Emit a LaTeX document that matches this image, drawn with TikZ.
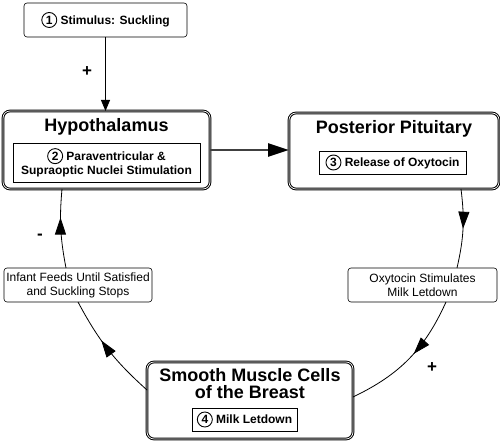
\documentclass[tikz,border=0pt]{standalone}
\usepackage{fontspec}
\setmainfont{Liberation Sans}
\usetikzlibrary{arrows.meta, decorations.markings}

\newcommand{\cnum}[1]{\tikz[baseline=(cnumnode.base)]\node[circle, draw, line width=0.9pt, inner sep=0pt, minimum size=15pt](cnumnode){#1};}

\tikzset{
  organ/.style={draw, rounded corners=7pt, double, double distance=0.7pt, line width=1pt, inner sep=0pt, outer sep=0pt},
  organtitle/.style={font=\fontsize{18}{17}\selectfont\bfseries, align=center},
  stepinner/.style={draw, line width=0.6pt, inner sep=0pt, outer sep=0pt, font=\fontsize{12}{14}\selectfont\bfseries, align=center},
  notebox/.style={draw, rounded corners=3pt, line width=0.6pt, inner sep=0pt, outer sep=0pt, minimum height=34pt, font=\fontsize{12}{14}\selectfont, align=center},
  cycleline/.style={line width=0.8pt},
  midarrow/.style={postaction={decorate}, decoration={markings, mark=at position #1 with {\arrow{Triangle[length=17pt,width=11pt]}}}},
  sign/.style={font=\fontsize{17}{17}\selectfont\bfseries}
}

\begin{document}
\begin{tikzpicture}[x=1pt, y=1pt]
  \useasboundingbox (0,0) rectangle (500,441);
  % stimulus
  \node[notebox, minimum width=163pt, font=\fontsize{12}{14}\selectfont\bfseries] (stim) at (105.5,421) {\cnum{1} Stimulus: Suckling};
  % hypothalamus
  \node[organ, minimum width=207pt, minimum height=78pt] (hyp) at (106.5,291) {};
  \node[organtitle] (hyptitle) at (106.5,314) {Hypothalamus};
  \node[stepinner, minimum width=187pt, minimum height=39pt] (hypstep) at (106.5,278.5) {\cnum{2} Paraventricular \&\\Supraoptic Nuclei Stimulation};
  % posterior pituitary
  \node[organ, minimum width=210pt, minimum height=76pt] (pp) at (394,290) {};
  \node[organtitle] (pptitle) at (394,312) {Posterior Pituitary};
  \node[stepinner, minimum width=147pt, minimum height=23pt] (ppstep) at (392.5,278.5) {\cnum{3} Release of Oxytocin};
  % breast
  \node[organ, minimum width=206pt, minimum height=77pt] (smc) at (250,40.5) {};
  \node[organtitle] (smctitle) at (250,57.5) {Smooth Muscle Cells\\of the Breast};
  \node[stepinner, minimum width=105pt, minimum height=23pt] (smcstep) at (244.5,21.5) {\cnum{4} Milk Letdown};
  % side notes
  \node[notebox, minimum width=149pt] (oxy) at (422.5,156) {Oxytocin Stimulates\\Milk Letdown};
  \node[notebox, minimum width=148pt] (infant) at (78,156) {Infant Feeds Until Satisfied\\and Suckling Stops};

  % connectors
  \draw[cycleline, -{Triangle[length=11pt,width=9pt]}] (stim.south) -- (stim.south |- hyp.north);
  \draw[line width=2.6pt, black!75, -{Triangle[length=21pt,width=13pt,fill=black,color=black]}] (hyp.east) -- (hyp.east -| pp.west);
  \draw[cycleline, midarrow=0.5] ([xshift=-38pt]pp.south east) to[bend left=10] ([xshift=34.5pt]oxy.north);
  \draw[cycleline, midarrow=0.45] ([xshift=23.5pt]oxy.south) to[bend left=20] ([yshift=3.5pt]smc.east);
  \draw[cycleline, midarrow=0.6] ([yshift=10.5pt]smc.west) to[bend left=10] (infant.south);
  \draw[cycleline, midarrow=0.64] ([xshift=-12pt]infant.north) to[bend left=8] ([xshift=-44.5pt]hyp.south);

  % signs
  \node[sign] (plustop) at (87,369) {+};
  \node[sign] (minusleft) at (40,204) {-};
  \node[sign] (plusright) at (432,73) {+};
\end{tikzpicture}
\end{document}
